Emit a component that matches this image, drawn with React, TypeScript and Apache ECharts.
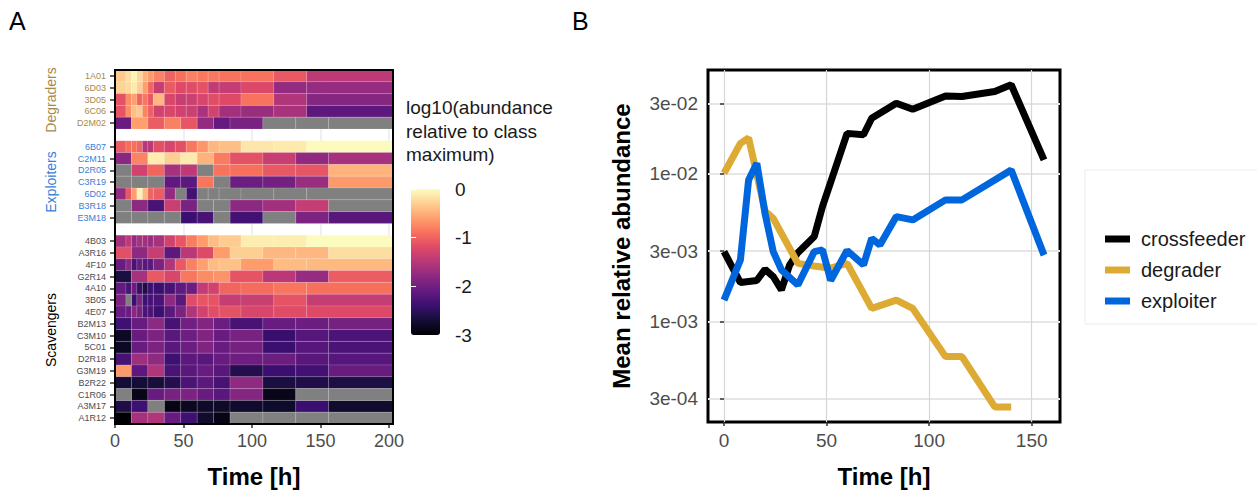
import React, { useEffect, useRef } from 'react';
import * as echarts from 'echarts';

const FONT = '"Liberation Sans", Arial, Helvetica, sans-serif';

// ---------- Panel A: heatmap ----------
const rowNames = [
  '1A01', '6D03', '3D05', '6C06', 'D2M02', 'gap1',
  '6B07', 'C2M11', 'D2R05', 'C3R19', '6D02', 'B3R18', 'E3M18', 'gap2',
  '4B03', 'A3R16', '4F10', 'G2R14', '4A10', '3B05', '4E07', 'B2M13', 'C3M10',
  '5C01', 'D2R18', 'G3M19', 'B2R22', 'C1R06', 'A3M17', 'A1R12',
];
const degraders = ['1A01', '6D03', '3D05', '6C06', 'D2M02'];
const exploiters = ['6B07', 'C2M11', 'D2R05', 'C3R19', '6D02', 'B3R18', 'E3M18'];

// tile edges (hours) for the two sampling schedules
const fineTimes = [0, 8, 12, 16, 20, 24, 28, 36, 44, 52, 60, 68, 76, 92, 116, 140, 203];
const coarseTimes = [0, 12, 24, 36, 48, 60, 72, 84, 108, 132, 156, 203];

// log10(abundance relative to class maximum); null = not detected
const v1A01 = [-0.33, -0.2, -0.05, -0.25, -0.48, -0.63, -0.78, -1.0, -0.9, -0.8, -0.84, -0.84, -0.88, -0.88, -1.08, -1.45];
const v6D03 = [-0.27, -0.22, -0.12, -0.3, -0.6, -0.98, -1.4, -1.07, -1.2, -1.18, -1.13, -1.42, -1.4, -1.22, -1.75, -1.73];
const v3D05 = [-1.13, -0.72, -0.6, -0.98, -0.85, -1.1, -0.45, -1.25, -1.38, -1.35, -1.25, -1.17, -1.2, -0.88, -1.55, -1.85];
const v6C06 = [-1.12, -0.72, -0.4, -0.33, -0.78, -1.02, -1.3, -1.25, -1.3, -1.35, -1.6, -1.3, -1.65, -1.7, -1.6, -2.15];
const vD2M02 = [-2.07, -0.6, -1.05, -0.8, -1.1, -1.75, -2.1, -1.95, null, null, null];
const v6B07 = [-1.05, -0.92, -0.9, -0.98, -1.5, -1.48, -1.15, -1.25, -1.15, -0.85, -0.65, -0.45, -0.4, -0.15, -0.12, -0.02];
const vC2M11 = [-1.82, -0.77, -0.1, -0.3, -0.12, -0.48, -0.83, -1.13, -1.38, -1.77, -1.62];
const vD2R05 = [null, -1.3, -0.98, -1.62, -1.45, null, -0.88, -0.9, -1.08, -1.1, -0.48];
const vC3R19 = [null, null, null, -2.12, -2.15, -0.87, null, -2.05, -1.98, -1.7, -0.63];
const v6D02 = [-1.75, -1.1, -0.6, -0.05, -0.45, -1.0, -1.05, -1.75, null, -2.35, null, null, null, null, null, null];
const vB3R18 = [null, -1.8, -2.3, -1.37, -1.95, null, null, -1.8, -1.65, -1.4, null];
const vE3M18 = [null, null, null, null, -2.4, -2.3, null, -2.35, null, -1.92, -2.18];
const v4B03 = [-1.65, -1.45, -1.75, -1.62, -1.65, -1.72, -1.6, -1.3, -1.1, -0.82, -0.62, -0.42, -0.32, -0.1, -0.1, -0.01];
const vA3R16 = [-1.15, -1.8, -1.38, -2.15, -1.48, -1.2, -0.62, -0.3, -0.45, -0.45, -0.2];
const v4F10 = [-2.07, -1.82, -2.3, -2.07, -2.18, -2.17, -1.92, -1.55, -1.08, -0.8, -0.6, -0.42, -0.38, -0.62, -0.42, -0.44];
const vG2R14 = [-2.65, -1.62, -1.08, -1.25, -0.85, -0.72, -0.67, -1.12, -1.48, -1.73, -1.05];
const v4A10 = [-2.1, -2.3, -2.05, -2.45, -2.6, -2.4, -2.4, -2.3, -2.12, -2.05, -1.42, -1.3, -0.98, -0.93, -0.87, -0.9];
const v3B05 = [-1.93, null, -2.4, -1.92, -2.38, -2.32, -2.3, -1.8, -2.17, -1.18, -1.1, -1.12, -1.4, -1.37, -1.12, -1.4];
const v4E07 = [-2.07, -2.07, -1.82, -1.95, -2.28, -2.28, -2.4, -2.17, -1.93, -1.55, -1.3, -1.17, -1.13, -1.25, -1.18, -1.2];
const vB2M13 = [-2.38, -2.07, -1.8, -2.32, -2.0, -1.88, -2.05, -2.3, -2.07, -2.05, -1.97];
const vC3M10 = [-2.8, -2.07, -1.92, -2.17, -2.03, -1.9, -2.07, -1.95, -2.42, -2.2, -2.27];
const v5C01 = [-2.8, -2.07, -1.92, -2.17, -2.04, -1.9, -2.06, -1.97, -2.4, -2.2, -2.28];
const vD2R18 = [-2.32, -1.68, -1.77, -2.38, -2.16, -2.18, -2.07, -2.03, -2.05, -2.18, -2.2];
const vG3M19 = [-0.63, -2.15, -1.55, -2.28, -2.17, -2.07, -2.18, -2.58, -2.4, -2.35, -2.07];
const vB2R22 = [-2.7, -2.7, -2.68, -2.57, -2.28, -2.15, -2.32, -1.77, -2.65, -2.6, -2.63];
const vC1R06 = [null, -2.88, -2.07, -1.95, -1.92, -2.07, -2.17, -1.85, -2.88, null, null];
const vA3M17 = [-2.62, -2.38, null, -2.9, -2.82, -2.78, -2.78, -2.76, -2.77, -2.4, -2.75];
const vA1R12 = [-3.0, -1.62, -1.55, -2.07, -2.38, -2.75, -2.9, null, null, null, null];

const heatRows: [string, number[], (number | null)[]][] = [
  ['1A01', fineTimes, v1A01], ['6D03', fineTimes, v6D03], ['3D05', fineTimes, v3D05],
  ['6C06', fineTimes, v6C06], ['D2M02', coarseTimes, vD2M02],
  ['6B07', fineTimes, v6B07], ['C2M11', coarseTimes, vC2M11], ['D2R05', coarseTimes, vD2R05],
  ['C3R19', coarseTimes, vC3R19], ['6D02', fineTimes, v6D02], ['B3R18', coarseTimes, vB3R18],
  ['E3M18', coarseTimes, vE3M18],
  ['4B03', fineTimes, v4B03], ['A3R16', coarseTimes, vA3R16], ['4F10', fineTimes, v4F10],
  ['G2R14', coarseTimes, vG2R14], ['4A10', fineTimes, v4A10], ['3B05', fineTimes, v3B05],
  ['4E07', fineTimes, v4E07], ['B2M13', coarseTimes, vB2M13], ['C3M10', coarseTimes, vC3M10],
  ['5C01', coarseTimes, v5C01], ['D2R18', coarseTimes, vD2R18], ['G3M19', coarseTimes, vG3M19],
  ['B2R22', coarseTimes, vB2R22], ['C1R06', coarseTimes, vC1R06], ['A3M17', coarseTimes, vA3M17],
  ['A1R12', coarseTimes, vA1R12],
];

const MAGMA = ['#000004', '#140E36', '#3B0F70', '#641A80', '#8C2981', '#B73779', '#DE4968', '#F7705C', '#FE9F6D', '#FECF92', '#FCFDBF'];
const colorbarTicks = [0, -1, -2, -3];

// ---------- Panel B: mean relative abundance ----------
const crossTimes = [0, 8, 16, 20, 24, 28, 32, 36, 44, 48, 60, 68, 72, 84, 92, 108, 116, 132, 140, 156];
const crossfeeder = [0.00298, 0.00184, 0.0019, 0.00226, 0.00202, 0.00164, 0.00242, 0.00293, 0.00377, 0.006, 0.0188, 0.0184, 0.0238, 0.0301, 0.0274, 0.0337, 0.0334, 0.0361, 0.0401, 0.01245];
const degTimes = [0, 8, 12, 20, 24, 36, 44, 52, 60, 72, 84, 92, 108, 116, 132, 140];
const degrader = [0.0101, 0.0161, 0.0175, 0.0056, 0.005, 0.00248, 0.00238, 0.0023, 0.00248, 0.00123, 0.0014, 0.00123, 0.00058, 0.00058, 0.000265, 0.000265];
const expTimes = [0, 8, 12, 16, 20, 24, 28, 36, 44, 48, 52, 60, 68, 72, 76, 84, 92, 108, 116, 132, 140, 156];
const exploiter = [0.0014, 0.00262, 0.0091, 0.0118, 0.0054, 0.00298, 0.00224, 0.00177, 0.00298, 0.00306, 0.0019, 0.00303, 0.00242, 0.00366, 0.0033, 0.00514, 0.00488, 0.00667, 0.00667, 0.0091, 0.01064, 0.00282];
const yBreaks = [3e-4, 1e-3, 3e-3, 1e-2, 3e-2];
const xBreaksB = [0, 50, 100, 150];

const classColor = (name: string) =>
  degraders.includes(name) ? '#A8894A' : exploiters.includes(name) ? '#3A80D8' : '#4D4D4D';

function buildCells() {
  const cells: number[][] = [];
  const na: number[][] = [];
  heatRows.forEach(([name, times, vals]) => {
    const r = rowNames.indexOf(name);
    vals.forEach((v, i) => {
      if (v === null) na.push([times[i], times[i + 1], r, 0]);
      else cells.push([times[i], times[i + 1], r, v]);
    });
  });
  return { cells, na };
}

const makeRender = (isNA: boolean) => (params: any, api: any) => {
  const p0 = api.coord([api.value(0), api.value(2)]);
  const p1 = api.coord([api.value(1), api.value(2)]);
  const h = api.size([0, 1])[1];
  return {
    type: 'rect',
    shape: { x: p0[0], y: p0[1] - h / 2, width: p1[0] - p0[0], height: h },
    style: { fill: isNA ? '#808080' : api.visual('color'), stroke: 'rgba(255,255,255,0.22)', lineWidth: 0.6 },
  };
};

const fmtSci = (v: number) => {
  const x = Math.pow(10, v);
  return x.toExponential(0).replace(/e([+-])(\d)$/, 'e$10$2');
};

export default function App() {
  const ref = useRef<HTMLDivElement>(null);
  useEffect(() => {
    if (!ref.current) return;
    const chart = echarts.init(ref.current, null, { renderer: 'svg' });
    const { cells, na } = buildCells();
    const logMin = Math.log10(2.094e-4);
    const logMax = Math.log10(0.05047);
    const lineSeries = (name: string, times: number[], vals: number[], color: string) => ({
      type: 'line', name, xAxisIndex: 1, yAxisIndex: 1,
      data: times.map((t, i) => [t, Math.log10(vals[i])]),
      showSymbol: false, symbol: 'none', color,
      lineStyle: { width: 7, color }, z: 3,
    });
    const option: any = {
      animation: false,
      textStyle: { fontFamily: FONT },
      grid: [
        { left: 115, top: 70, width: 278, height: 354 },
        { left: 708, top: 70, width: 352, height: 352, show: true, borderColor: '#000', borderWidth: 3 },
        { left: 411, top: 189, width: 29, height: 146 },
      ],
      xAxis: [
        {
          gridIndex: 0, type: 'value', min: 0, max: 203, interval: 50,
          name: 'Time [h]', nameLocation: 'middle', nameGap: 40,
          nameTextStyle: { fontSize: 24, fontWeight: 'bold', color: '#000', fontFamily: FONT },
          axisLine: { show: false },
          axisTick: { show: true, length: 4, lineStyle: { color: '#333', width: 1.5 } },
          axisLabel: { fontSize: 18, color: '#4D4D4D', margin: 8, fontFamily: FONT },
          splitLine: { show: true, lineStyle: { color: '#EBEBEB', width: 1.5 } },
        },
        {
          gridIndex: 1, type: 'value', min: -7.8, max: 163.8,
          name: 'Time [h]', nameLocation: 'middle', nameGap: 42,
          nameTextStyle: { fontSize: 24, fontWeight: 'bold', color: '#000', fontFamily: FONT },
          axisLine: { show: false },
          axisTick: { show: true, length: 4, customValues: xBreaksB, lineStyle: { color: '#333', width: 1.5 } },
          axisLabel: { fontSize: 19, color: '#4D4D4D', margin: 9, customValues: xBreaksB, fontFamily: FONT },
          splitLine: { show: true, lineStyle: { color: '#D6D6D6', width: 1.2 } },
        },
        { gridIndex: 2, type: 'value', min: 0, max: 1, show: false },
      ],
      yAxis: [
        {
          gridIndex: 0, type: 'category', data: rowNames, inverse: true,
          axisLine: { show: false },
          axisTick: {
            show: true, length: 5, alignWithLabel: true,
            interval: (i: number, v: string) => !v.startsWith('gap'),
            lineStyle: { color: '#333', width: 1.5 },
          },
          axisLabel: {
            interval: 0, fontSize: 9, margin: 9, fontFamily: FONT,
            formatter: (v: string) => (v.startsWith('gap') ? '' : v),
            color: (v: string) => classColor(v),
          },
          splitLine: { show: false },
        },
        {
          gridIndex: 1, type: 'value', min: logMin, max: logMax,
          name: 'Mean relative abundance', nameLocation: 'middle', nameGap: 75, nameRotate: 90,
          nameTextStyle: { fontSize: 24, fontWeight: 'bold', color: '#000', fontFamily: FONT },
          axisLine: { show: false },
          axisTick: { show: true, length: 4, customValues: yBreaks.map(Math.log10), lineStyle: { color: '#333', width: 1.5 } },
          axisLabel: { fontSize: 19, color: '#4D4D4D', margin: 10, customValues: yBreaks.map(Math.log10), formatter: fmtSci, fontFamily: FONT },
          splitLine: { show: true, lineStyle: { color: '#E6E6E6', width: 2.2 } },
        },
        {
          gridIndex: 2, type: 'value', min: -3, max: 0, interval: 1, position: 'right', z: 10,
          axisLine: { show: false },
          axisTick: { show: true, inside: true, length: 5, lineStyle: { color: '#FFFFFF', width: 1 } },
          axisLabel: { fontSize: 19, color: '#1A1A1A', margin: 15, fontFamily: FONT, customValues: colorbarTicks },
          splitLine: { show: false },
        },
        {
          gridIndex: 2, type: 'value', min: -3, max: 0, interval: 1, position: 'left', z: 10,
          axisLine: { show: false },
          axisTick: { show: true, inside: true, length: 5, lineStyle: { color: '#FFFFFF', width: 1 } },
          axisLabel: { show: false },
          splitLine: { show: false },
        },
      ],
      visualMap: [{
        type: 'continuous', seriesIndex: 0, dimension: 3, min: -3, max: 0,
        inRange: { color: MAGMA }, calculable: false, show: true,
        left: 411, top: 189, itemWidth: 29, itemHeight: 146, padding: 0,
        text: null, orient: 'vertical', z: 4,
      }],
      legend: {
        data: ['crossfeeder', 'degrader', 'exploiter'], orient: 'vertical',
        left: 1100, top: 224, itemWidth: 25, itemHeight: 7, itemGap: 11, icon: 'rect',
        textStyle: { fontSize: 20, color: '#1A1A1A', lineHeight: 20, padding: [0, 0, 0, 6], fontFamily: FONT },
      },
      graphic: [
        { type: 'text', left: 9, top: 8, style: { text: 'A', fontSize: 25, fill: '#000', fontFamily: FONT } },
        { type: 'text', left: 572, top: 8, style: { text: 'B', fontSize: 25, fill: '#000', fontFamily: FONT } },
        { type: 'rect', shape: { x: 115, y: 70, width: 278, height: 354 }, style: { fill: 'none', stroke: '#000', lineWidth: 2 }, z: 100 },
        { type: 'rect', shape: { x: 1085, y: 170, width: 200, height: 154 }, style: { fill: 'none', stroke: '#EBEBEB', lineWidth: 1 }, z: 1 },
        {
          type: 'text', x: 51, y: 100, rotation: Math.PI / 2,
          style: { text: 'Degraders', fontSize: 14, fill: '#A8894A', align: 'center', verticalAlign: 'middle', fontFamily: FONT },
        },
        {
          type: 'text', x: 51, y: 182, rotation: Math.PI / 2,
          style: { text: 'Exploiters', fontSize: 14, fill: '#3A80D8', align: 'center', verticalAlign: 'middle', fontFamily: FONT },
        },
        {
          type: 'text', x: 51, y: 330, rotation: Math.PI / 2,
          style: { text: 'Scavengers', fontSize: 14, fill: '#000', align: 'center', verticalAlign: 'middle', fontFamily: FONT },
        },
        {
          type: 'text', left: 406, top: 96,
          style: { text: 'log10(abundance\nrelative to class\nmaximum)', fontSize: 19, lineHeight: 23.5, fill: '#1A1A1A', fontFamily: FONT },
        },
      ],
      series: [
        {
          type: 'custom', name: 'heat', xAxisIndex: 0, yAxisIndex: 0,
          renderItem: makeRender(false), data: cells,
          encode: { x: [0, 1], y: 2 }, dimensions: ['t0', 't1', 'row', 'value'],
        },
        {
          type: 'custom', name: 'na', xAxisIndex: 0, yAxisIndex: 0,
          renderItem: makeRender(true), data: na,
          encode: { x: [0, 1], y: 2 },
        },
        lineSeries('crossfeeder', crossTimes, crossfeeder, '#000000'),
        lineSeries('degrader', degTimes, degrader, '#DDAA33'),
        lineSeries('exploiter', expTimes, exploiter, '#0066DD'),
      ],
    };
    chart.setOption(option);
    return () => chart.dispose();
  }, []);
  return <div ref={ref} style={{ position: 'fixed', left: 0, top: 0, width: 1257, height: 493, background: '#fff' }} />;
}
